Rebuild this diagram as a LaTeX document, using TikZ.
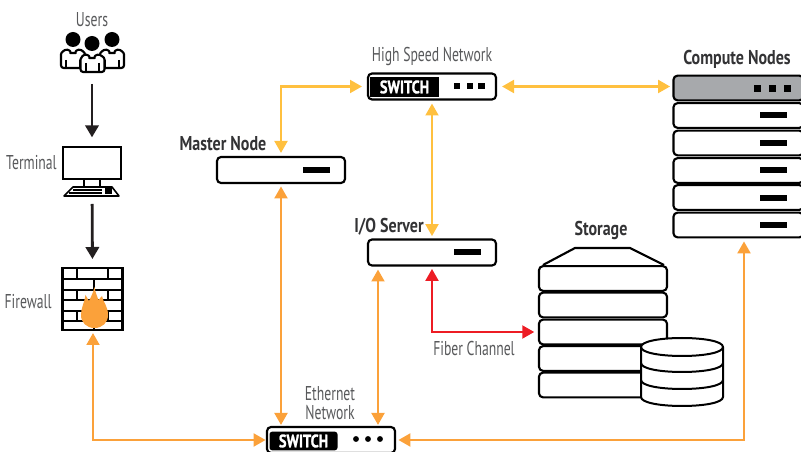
\documentclass[tikz,border=0pt]{standalone}
\usepackage{fontspec}
\usetikzlibrary{arrows.meta}
\newfontfamily\labfont[FakeStretch=0.685]{PT Sans}
\newfontfamily\boldfont[FakeStretch=0.8]{PT Sans Bold}
\newfontfamily\swfont[FakeStretch=0.8,FakeBold=1.2]{PT Sans Bold}
\definecolor{txt}{HTML}{58595B}
\definecolor{txtb}{HTML}{333335}
\definecolor{yel}{HTML}{FFC03F}
\definecolor{org}{HTML}{FBA13A}
\definecolor{redc}{HTML}{ED1C24}
\definecolor{ink}{HTML}{231F20}
\definecolor{graybox}{HTML}{A7A9AC}
\tikzset{
  x=0.75pt,y=-0.75pt,
  lab/.style={text=txt,font=\labfont\fontsize{15}{16}\selectfont,inner sep=0pt,align=center},
  labb/.style={text=txtb,font=\boldfont\fontsize{15}{16}\selectfont,inner sep=0pt},
  box/.style={draw=black,fill=white,line width=1.6pt,rounded corners=3pt,outer sep=0pt,inner sep=0pt},
  hostbox/.style={box,minimum width=96pt,minimum height=19.5pt},
  rowbox/.style={box,minimum width=97.5pt,minimum height=18.5pt},
  stackbox/.style={box,minimum width=96pt,minimum height=18.5pt},
  sw/.style={fill=black,text=white,rounded corners=2pt,inner sep=0pt,outer sep=0pt,font=\swfont\fontsize{13.5}{14}\selectfont},
  blk/.style={fill=black,draw=none,inner sep=0pt,outer sep=0pt},
  bar/.style={blk,minimum width=20pt,minimum height=4.5pt},
  sq/.style={blk,minimum width=4.8pt,minimum height=4.8pt},
  dot/.style={blk,circle,minimum size=4.4pt},
  ghost/.style={inner sep=0pt,outer sep=0pt},
  link/.style={line width=2.1pt},
  both/.style={link,{Triangle[length=9pt,width=9.5pt]}-{Triangle[length=9pt,width=9.5pt]}},
  bk/.style={draw=ink,line width=2.1pt,-{Triangle[length=9pt,width=10pt]}},
  person/.style={draw=black,fill=white,line width=1.6pt,line join=round,rounded corners=2pt},
}
\begin{document}
\begin{tikzpicture}
\useasboundingbox (0,0) rectangle (801,452);

% labels
\node[lab] (lusers) at (92,20) {Users};
\node[lab,anchor=east] (lterm) at (57,163) {Terminal};
\node[lab,anchor=east] (lfire) at (52,302) {Firewall};
\node[labb] (lmaster) at (223,144) {Master Node};
\node[lab] (lhigh) at (432,57) {High Speed Network};
\node[labb] (lcomp) at (737,59) {Compute Nodes};
\node[labb] (lio) at (389,227) {I/O Server};
\node[labb] (lstore) at (601,230) {Storage};
\node[lab] (lfiber) at (474,349) {Fiber Channel};
\node[lab] (leth1) at (330,394) {Ethernet};
\node[lab] (leth2) at (330,413) {Network};

% users
\node[ghost,minimum width=49.5pt,minimum height=30pt] (users) at (92,52) {};
\fill[black] (73,39.5) circle (7.5);
\fill[black] (112,39.5) circle (7.5);
\fill[black] (92,43.5) circle (7.5);
\foreach \d/\e in {0/0,39/0}{
  \draw[person,shift={(\d,\e)}] (61,68) -- (61,57) .. controls (61,52) and (65,50) .. (68,49)
     .. controls (70,51) and (71,53) .. (73,53) .. controls (75,53) and (76,51) .. (78,49)
     .. controls (81,50) and (85,52) .. (85,57) -- (85,68) -- cycle;
  \draw[line width=1.6pt,shift={(\d,\e)}] (66,60) -- (66,68) (80,60) -- (80,68);
}
\draw[person] (80.5,72) -- (80.5,62) .. controls (80.5,57) and (84,55) .. (87,54)
     .. controls (89,56) and (90,58) .. (92,58) .. controls (94,58) and (95,56) .. (97,54)
     .. controls (100,55) and (104.5,57) .. (104.5,62) -- (104.5,72) -- cycle;
\draw[line width=1.6pt] (86,63) -- (86,72) (99,63) -- (99,72);

% terminal
\node[box,rounded corners=0pt,minimum width=43.5pt,minimum height=24.5pt] (term) at (92,163) {};
\draw[black,line width=1.2pt] (84,180) -- (84,186) (100,180) -- (100,186);
\draw[black,line width=1.2pt,line join=round] (64,196) -- (73,187) -- (112,187) -- (119,196) -- cycle;
\draw[black,line width=1pt] (73,190) -- (102,190) (69,193) -- (102,193);
\fill[black] (105,188.5) rectangle (112,194);

% firewall
\node[box,rounded corners=0pt,minimum width=45pt,minimum height=46pt,line width=1.6pt] (fire) at (92.5,299) {};
\draw[black,line width=1.5pt]
  (62,279.5) -- (123,279.5) (62,290) -- (123,290) (62,300.5) -- (123,300.5)
  (62,311) -- (123,311) (62,321) -- (123,321)
  (76.5,268) -- (76.5,279.5) (108,268) -- (108,279.5)
  (94,279.5) -- (94,290)
  (76.5,290) -- (76.5,300.5) (108,290) -- (108,300.5)
  (94,300.5) -- (94,311)
  (76.5,311) -- (76.5,321) (108,311) -- (108,321)
  (94,321) -- (94,330);
\fill[org] (94.5,287) .. controls (95.5,293) and (97,296) .. (98.5,300)
  -- (102,296) .. controls (103,302) and (108,306) .. (108,315)
  .. controls (108,323) and (102,328) .. (94.5,328)
  .. controls (87,328) and (81,323) .. (81,315)
  .. controls (81,308) and (84,304) .. (85.5,295)
  -- (89,301) .. controls (91,297) and (93,293) .. (94.5,287) -- cycle;

% master, io
\node[hostbox] (master) at (281,170) {};
\node[bar] (mbar) at (316.5,170) {};
\node[hostbox] (io) at (432,252.5) {};
\node[bar] (iobar) at (467.5,252) {};

% high speed switch
\node[hostbox,minimum height=19.5pt] (hs) at (432,86.5) {};
\node[sw,rounded corners=0pt,minimum width=51.5pt,minimum height=15pt] (hslab) at (404.5,87) {SWITCH};
\node[sq] (hs1) at (457,86) {};
\node[sq] (hs2) at (470,86) {};
\node[sq] (hs3) at (481.5,86) {};

% ethernet switch
\node[hostbox,minimum height=19.5pt] (eth) at (331,440) {};
\node[sw,minimum width=51pt,minimum height=14pt] (ethlab) at (303.5,441) {SWITCH};
\node[dot] (e1) at (356,439) {};
\node[dot] (e2) at (368,439) {};
\node[dot] (e3) at (380,439) {};

% compute nodes
\node[rowbox,fill=graybox] (c0) at (738.5,88) {};
\node[rowbox] (c1) at (738.5,115.5) {};
\node[rowbox] (c2) at (738.5,143) {};
\node[rowbox] (c3) at (738.5,170.5) {};
\node[rowbox] (c4) at (738.5,197.5) {};
\node[rowbox] (c5) at (738.5,225) {};
\node[sq] (c01) at (757.5,88.5) {};
\node[sq] (c02) at (772.5,88.5) {};
\node[sq] (c03) at (787.5,88.5) {};
\foreach \n/\y in {b1/115,b2/143,b3/170,b4/198,b5/225}{\node[bar] (\n) at (773.5,\y) {};}

% storage
\draw[black,line width=1.6pt,line join=round] (543,265) -- (575,248) -- (630,248) -- (664,265);
\node[stackbox] (s1) at (603,278.5) {};
\node[stackbox] (s2) at (603,305) {};
\node[stackbox] (s3) at (603,332) {};
\node[stackbox] (s4) at (603,358.5) {};
\node[stackbox] (s5) at (603,385) {};

% cylinder
\node[ghost,minimum width=61.5pt,minimum height=50pt] (cyl) at (682,372) {};
\draw[black,fill=white,line width=1.5pt] (641,347) -- (641,397)
  .. controls (641,409) and (723,409) .. (723,397) -- (723,347)
  .. controls (723,335) and (641,335) .. (641,347) -- cycle;
\draw[black,line width=1.5pt] (641,347) .. controls (641,359) and (723,359) .. (723,347);
\draw[black,line width=1.5pt] (641,363) .. controls (641,375) and (723,375) .. (723,363);
\draw[black,line width=1.5pt] (641,380) .. controls (641,392) and (723,392) .. (723,380);

% connectors
\draw[bk,shorten <=9pt,shorten >=7pt] (users.south) -- (term.north);
\draw[bk,shorten <=18.5pt,shorten >=7pt] (term.south) -- (fire.north);
\draw[both,yel,shorten <=3pt,shorten >=4.5pt,rounded corners=0pt] (master.north) |- (hs.west);
\draw[both,yel,shorten <=4.5pt,shorten >=2.5pt] (hs.east) -- (hs.east -| c0.west);
\draw[both,yel,shorten <=3pt,shorten >=2.5pt] (hs.south) -- (io.north);
\draw[both,org,shorten <=2.5pt,shorten >=1.5pt] (master.south) -- (master.south |- eth.north);
\draw[both,org,shorten <=3pt,shorten >=1.5pt] (378,0 |- io.south) -- (378,0 |- eth.north);
\draw[both,org,shorten <=2.5pt,shorten >=1pt] (93,0 |- fire.south) |- (eth.west);
\draw[both,org,shorten <=2.5pt,shorten >=3pt] (eth.east) -| (744,0 |- c5.south);
\draw[both,redc,shorten <=2.5pt,shorten >=3.5pt] (io.south) |- (s3.west);
\end{tikzpicture}
\end{document}
